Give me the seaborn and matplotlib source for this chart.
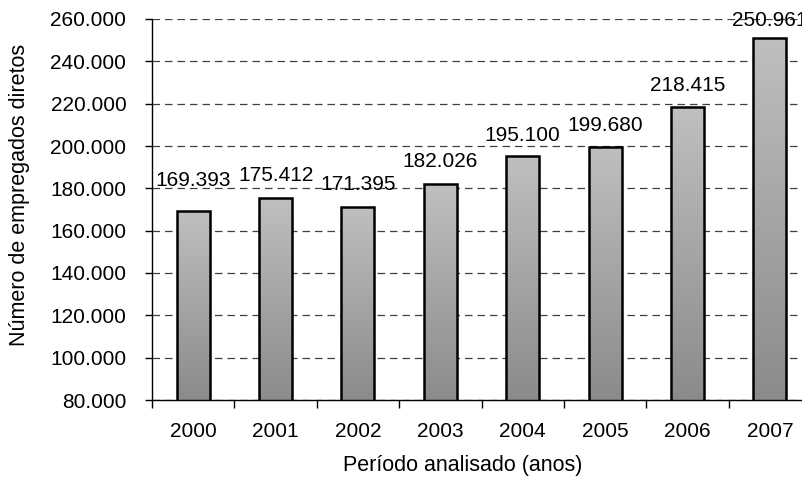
import matplotlib
matplotlib.use("Agg")
import matplotlib.pyplot as plt
import seaborn as sns
import numpy as np
import pandas as pd
from matplotlib.colors import LinearSegmentedColormap
from matplotlib.ticker import FuncFormatter, FixedLocator

years = ["2000", "2001", "2002", "2003", "2004", "2005", "2006", "2007"]
employees = [169393, 175412, 171395, 182026, 195100, 199680, 218415, 250961]
y_ticks = [80000, 100000, 120000, 140000, 160000, 180000, 200000, 220000, 240000, 260000]

# vertical distance (pixels) between bar top and centre of its value label
label_lift_px = [32, 25, 24.5, 25, 22.5, 23.5, 24, 20]

sns.set_style("white")
plt.rcParams['font.family'] = ['Liberation Sans', 'DejaVu Sans']
plt.rcParams['text.color'] = 'black'
plt.rcParams['axes.labelcolor'] = 'black'
plt.rcParams['xtick.color'] = 'black'
plt.rcParams['ytick.color'] = 'black'

df = pd.DataFrame({"ano": years, "empregados": employees})

fig = plt.figure(figsize=(8.02, 4.84), dpi=100)
W, H = 802, 484
ax = fig.add_axes([152 / W, 1 - 400 / H, (811 - 152) / W, (400 - 19) / H])

sns.barplot(data=df, x="ano", y="empregados", ax=ax, color="#a0a0a0",
            width=0.4, edgecolor="black", linewidth=1.8, zorder=3)

ax.set_ylim(80000, 260000)
ax.set_xlim(-0.5, len(years) - 0.5)

# gradient fill for each bar
cmap = LinearSegmentedColormap.from_list("g", ["#8b8b8b", "#bfbfbf"])
grad = np.linspace(0, 1, 256).reshape(-1, 1)
for p in ax.patches:
    x0, y0 = p.get_x(), p.get_y()
    w, h = p.get_width(), p.get_height()
    yb = max(y0, 80000)
    p.set_facecolor("none")
    im = ax.imshow(grad, cmap=cmap, aspect="auto", origin="lower",
                   extent=[x0, x0 + w, yb, y0 + h], zorder=2.5,
                   interpolation="bilinear")
    im.set_clip_path(p)

ax.set_xlim(-0.5, len(years) - 0.5)
ax.set_ylim(80000, 260000)

fmt = lambda v: f"{int(v):,}".replace(",", ".")
ax.yaxis.set_major_locator(FixedLocator(y_ticks))
ax.yaxis.set_major_formatter(FuncFormatter(lambda v, pos: fmt(v)))

for i, v in enumerate(employees):
    ax.annotate(fmt(v), xy=(i, v), xytext=(0, label_lift_px[i] * 0.72),
                textcoords="offset points", ha="center", va="center_baseline",
                fontsize=15, color="black", zorder=5, annotation_clip=False)

ax.yaxis.grid(True, linestyle=(0, (6, 4)), color="#404040", linewidth=0.9, zorder=0)
ax.set_axisbelow(True)

for s in ["top", "right"]:
    ax.spines[s].set_visible(False)
for s in ["left", "bottom"]:
    ax.spines[s].set_color("black")
    ax.spines[s].set_linewidth(1.0)

ax.tick_params(axis="y", which="major", direction="out", length=5, width=1,
               color="black", labelsize=15, pad=13.5, left=True)
ax.set_xticks(range(len(years)))
ax.set_xticklabels(years)
ax.set_xticks(np.arange(-0.5, len(years)), minor=True)
ax.tick_params(axis="x", which="major", length=0, labelsize=15, pad=16)
ax.tick_params(axis="x", which="minor", direction="out", length=6, width=1,
               color="black", bottom=True)

ax.set_ylabel("")
ax.set_xlabel("")
fig.text(20 / W, 1 - 195 / H, "Número de empregados diretos", ha="center",
         va="center", rotation=90, fontsize=15.5)
fig.text(463 / W, 1 - 466 / H, "Período analisado (anos)", ha="center",
         va="center", fontsize=15.5)

fig.savefig("out.png", dpi=100)
